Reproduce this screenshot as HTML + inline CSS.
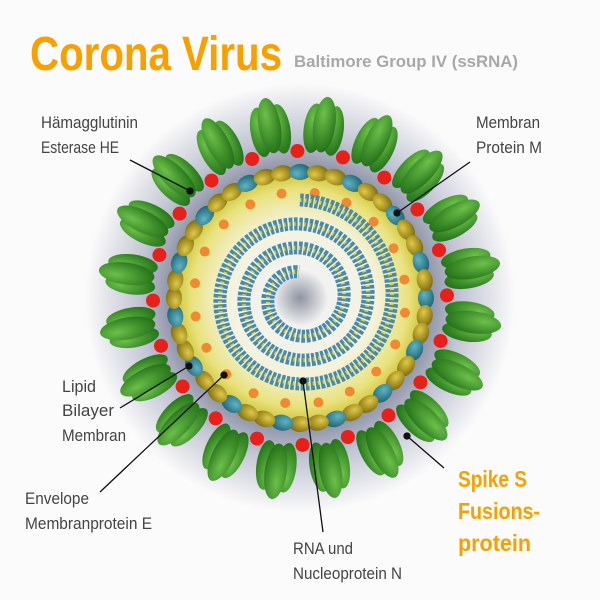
<!DOCTYPE html>
<html><head><meta charset="utf-8"><style>
html,body{margin:0;padding:0;background:#fbfbfb;}
svg{display:block}
.t{font-family:"Liberation Sans",sans-serif;}
</style></head><body>
<svg id="s" width="600" height="600" viewBox="0 0 600 600" xmlns="http://www.w3.org/2000/svg">
<defs>
<radialGradient id="halo" cx="300" cy="298" r="215" gradientUnits="userSpaceOnUse">
<stop offset="0.55" stop-color="#7d8299"/><stop offset="0.75" stop-color="#c2c5d3"/><stop offset="1" stop-color="#fbfbfb"/>
</radialGradient>
<radialGradient id="core" cx="300" cy="298" r="128" gradientUnits="userSpaceOnUse">
<stop offset="0" stop-color="#8f94a2"/><stop offset="0.22" stop-color="#f2f2f2"/><stop offset="0.6" stop-color="#f4f2dc"/><stop offset="0.85" stop-color="#e9e27c"/><stop offset="1" stop-color="#c9bd2a"/>
</radialGradient>
<radialGradient id="gold" cx="0.4" cy="0.35" r="0.7"><stop offset="0" stop-color="#e0c94a"/><stop offset="1" stop-color="#7d6a08"/></radialGradient>
<radialGradient id="teal" cx="0.4" cy="0.35" r="0.7"><stop offset="0" stop-color="#5fb4c2"/><stop offset="1" stop-color="#1d6274"/></radialGradient>
<radialGradient id="grn" cx="0.4" cy="0.3" r="0.8"><stop offset="0" stop-color="#6cc04a"/><stop offset="1" stop-color="#1c6a14"/></radialGradient>
</defs>
<circle cx="300" cy="298" r="215" fill="url(#halo)"/>
<g id="spikes"></g>
<circle cx="300" cy="298" r="128" fill="url(#core)"/>
<g id="he"></g>
<g id="mem"></g>
<path id="sp" fill="none" stroke="#4a8aa6" stroke-width="13" stroke-dasharray="3.5 1.5"/>
<path id="sp2" fill="none" stroke="#d8d04a" stroke-width="4" stroke-dasharray="1.5 3.5"/>
<g stroke="#111" stroke-width="1.3" fill="#111">
<line x1="130" y1="160" x2="190" y2="191"/><circle cx="190" cy="191" r="3"/>
<line x1="470" y1="162" x2="397" y2="213"/><circle cx="397" cy="213" r="3"/>
<line x1="120" y1="408" x2="189" y2="366"/><circle cx="189" cy="366" r="3"/>
<line x1="100" y1="492" x2="224" y2="375"/><circle cx="224" cy="375" r="3"/>
<line x1="323" y1="532" x2="303" y2="381"/><circle cx="303" cy="381" r="3"/>
<line x1="444" y1="468" x2="407" y2="436"/><circle cx="407" cy="436" r="3"/>
</g>
<text class="t" x="30" y="70" font-size="48" font-weight="bold" fill="#f7a000" textLength="252" lengthAdjust="spacingAndGlyphs">Corona Virus</text>
<text class="t" x="294" y="67" font-size="17" font-weight="bold" fill="#a8a8a8" textLength="224" lengthAdjust="spacingAndGlyphs">Baltimore Group IV (ssRNA)</text>
<g class="t" font-size="17" fill="#444" lengthAdjust="spacingAndGlyphs">
<text x="41" y="128" textLength="97" lengthAdjust="spacingAndGlyphs">Hämagglutinin</text><text x="41" y="153" textLength="78" lengthAdjust="spacingAndGlyphs">Esterase HE</text>
<text x="476" y="128" textLength="64" lengthAdjust="spacingAndGlyphs">Membran</text><text x="476" y="153" textLength="66" lengthAdjust="spacingAndGlyphs">Protein M</text>
<text x="62" y="392" textLength="34" lengthAdjust="spacingAndGlyphs">Lipid</text><text x="62" y="416" textLength="52" lengthAdjust="spacingAndGlyphs">Bilayer</text><text x="62" y="441" textLength="64" lengthAdjust="spacingAndGlyphs">Membran</text>
<text x="25" y="504" textLength="64" lengthAdjust="spacingAndGlyphs">Envelope</text><text x="25" y="529" textLength="127" lengthAdjust="spacingAndGlyphs">Membranprotein E</text>
<text x="293" y="554" textLength="60" lengthAdjust="spacingAndGlyphs">RNA und</text><text x="293" y="579" textLength="109" lengthAdjust="spacingAndGlyphs">Nucleoprotein N</text>
</g>
<g class="t" font-size="23" font-weight="bold" fill="#f7a000">
<text x="458" y="487" textLength="69" lengthAdjust="spacingAndGlyphs">Spike S</text><text x="458" y="519" textLength="82" lengthAdjust="spacingAndGlyphs">Fusions-</text><text x="458" y="551" textLength="73" lengthAdjust="spacingAndGlyphs">protein</text>
</g>
</svg>
<script>
var NS="http://www.w3.org/2000/svg",cx=300,cy=298;
function el(p,t,a){var e=document.createElementNS(NS,t);for(var k in a)e.setAttribute(k,a[k]);p.appendChild(e);return e;}
var sp=document.getElementById("spikes");
for(var i=0;i<20;i++){var a=-90+8+i*18,r=a*Math.PI/180;
 var g=el(sp,"g",{transform:"translate("+(cx+172*Math.cos(r))+","+(cy+172*Math.sin(r))+") rotate("+(a+90)+")"});
 el(g,"ellipse",{cx:-10,cy:2,rx:10,ry:25,fill:"url(#grn)"});
 el(g,"ellipse",{cx:10,cy:2,rx:10,ry:25,fill:"url(#grn)"});
 el(g,"ellipse",{cx:0,cy:-3,rx:11,ry:28,fill:"url(#grn)"});
}
var he=document.getElementById("he");
for(var i=0;i<20;i++){var a=-90+17+i*18,r=a*Math.PI/180;
 el(he,"circle",{cx:cx+147*Math.cos(r),cy:cy+147*Math.sin(r),r:7,fill:"#e8201a"});
 var r2=(a+9)*Math.PI/180;
 el(he,"circle",{cx:cx+106*Math.cos(r2),cy:cy+106*Math.sin(r2),r:5,fill:"#f08a30"});
}
var m=document.getElementById("mem");
var N=44;
for(var i=0;i<N;i++){var a=i*360/N,r=a*Math.PI/180,x=cx+126*Math.cos(r),y=cy+126*Math.sin(r);
 el(m,"ellipse",{cx:x,cy:y,rx:8,ry:11,fill:(i%3==0)?"url(#teal)":"url(#gold)",transform:"rotate("+a+" "+x+" "+y+")"});
}
var d="";
for(var t=0;t<=1;t+=0.002){var ang=-Math.PI/2+t*Math.PI*2*3,rad=98-t*72;
 d+=(t==0?"M":"L")+(cx+rad*Math.cos(ang)).toFixed(1)+","+(cy+rad*Math.sin(ang)).toFixed(1);}
document.getElementById("sp").setAttribute("d",d);
document.getElementById("sp2").setAttribute("d",d);
</script>
</body></html>
